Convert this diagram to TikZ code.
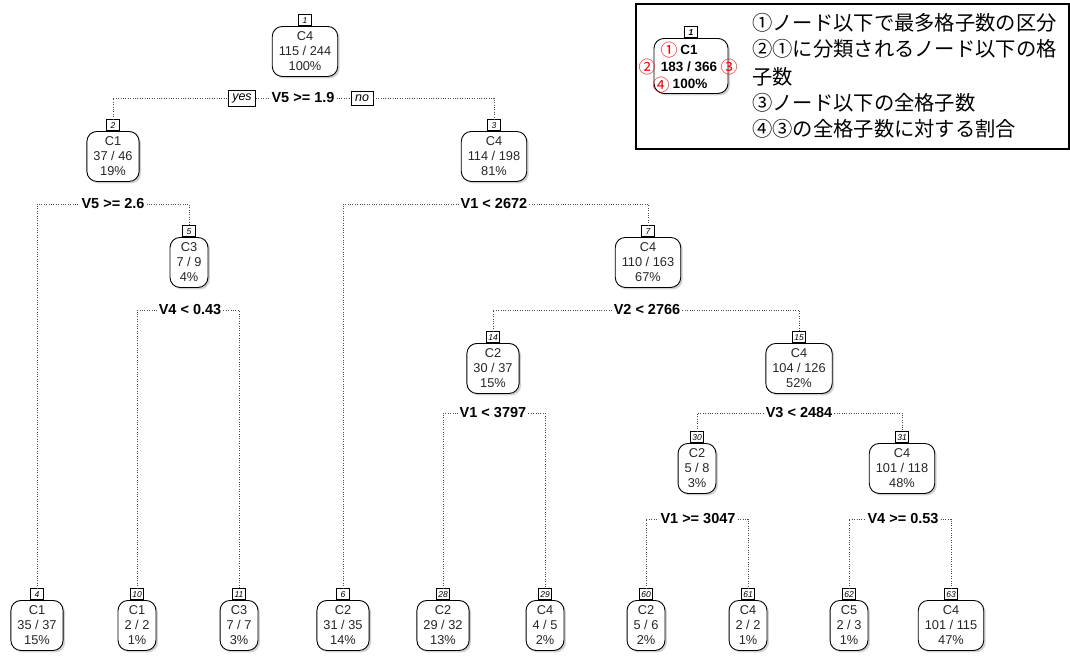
\documentclass[tikz,border=0pt]{standalone}
\usepackage{fontspec}
\setmainfont{Liberation Sans}
\newfontfamily\cjk{Noto Sans CJK JP}
\usetikzlibrary{shadows}
\tikzset{
  tbox/.style={draw=black, line width=0.9pt, rounded corners=10pt, fill=white,
    inner xsep=6.5pt, inner ysep=3pt, minimum height=50pt, align=center,
    font=\fontsize{12.8}{15}\selectfont, text=black!85, anchor=north,
    drop shadow={shadow xshift=2pt, shadow yshift=-2pt, fill=black!35}},
  numbox/.style={draw=black, line width=0.7pt, fill=white, inner sep=1pt,
    minimum width=13pt, minimum height=11pt, anchor=south,
    font=\fontsize{8.5}{8.5}\selectfont\itshape},
  splitlab/.style={fill=white, inner xsep=2pt, inner ysep=1pt,
    font=\fontsize{14.5}{15}\selectfont\bfseries},
  ynbox/.style={draw=black, line width=0.7pt, fill=white, inner xsep=4pt,
    minimum height=14pt, font=\fontsize{12.5}{13}\selectfont\itshape},
  conn/.style={black!70, line width=0.8pt, dash pattern=on 0.8pt off 1.6pt},
  redmark/.style={text=red, inner sep=0pt, font=\cjk\fontsize{17}{17}\selectfont},
  legtxt/.style={anchor=west, inner sep=0pt, font=\cjk\fontsize{20.3}{20}\selectfont},
  legnode/.style={inner sep=0pt, font=\fontsize{13.5}{14}\selectfont\bfseries}
}
\newcommand\treenode[7]{%
  \node[tbox] (#1) at (#2,#3) {#5\\#6\\#7};
  \node[numbox] (#1num) at (#1.north) {#4};}
\begin{document}
\begin{tikzpicture}[x=1pt,y=-1pt]
\useasboundingbox[fill=white] (0,0) rectangle (1070,659);
% tree nodes
\treenode{n1}{305}{26}{1}{C4}{115 / 244}{100\%}
\treenode{n2}{113}{131}{2}{C1}{37 / 46}{19\%}
\treenode{n3}{494}{131}{3}{C4}{114 / 198}{81\%}
\treenode{n5}{189}{237}{5}{C3}{7 / 9}{4\%}
\treenode{n7}{648}{237}{7}{C4}{110 / 163}{67\%}
\treenode{n14}{493}{343}{14}{C2}{30 / 37}{15\%}
\treenode{n15}{799}{343}{15}{C4}{104 / 126}{52\%}
\treenode{n30}{697}{443}{30}{C2}{5 / 8}{3\%}
\treenode{n31}{902}{443}{31}{C4}{101 / 118}{48\%}
\treenode{n4}{37}{600}{4}{C1}{35 / 37}{15\%}
\treenode{n10}{137}{600}{10}{C1}{2 / 2}{1\%}
\treenode{n11}{239}{600}{11}{C3}{7 / 7}{3\%}
\treenode{n6}{343}{600}{6}{C2}{31 / 35}{14\%}
\treenode{n28}{443}{600}{28}{C2}{29 / 32}{13\%}
\treenode{n29}{545}{600}{29}{C4}{4 / 5}{2\%}
\treenode{n60}{646}{600}{60}{C2}{5 / 6}{2\%}
\treenode{n61}{748}{600}{61}{C4}{2 / 2}{1\%}
\treenode{n62}{849}{600}{62}{C5}{2 / 3}{1\%}
\treenode{n63}{951}{600}{63}{C4}{101 / 115}{47\%}
% split labels
\node[splitlab] (s1) at (303,98) {V5 >= 1.9};
\node[ynbox] (yes) at (242,98) {yes};
\node[ynbox] (no) at (362,98) {no};
\node[splitlab] (s2) at (113,204) {V5 >= 2.6};
\node[splitlab] (s5) at (190,310) {V4 < 0.43};
\node[splitlab] (s3) at (494,204) {V1 < 2672};
\node[splitlab] (s7) at (647,310) {V2 < 2766};
\node[splitlab] (s14) at (493,413) {V1 < 3797};
\node[splitlab] (s15) at (799,413) {V3 < 2484};
\node[splitlab] (s30) at (698,519) {V1 >= 3047};
\node[splitlab] (s31) at (903,519) {V4 >= 0.53};
% connectors
\draw[conn] (n2num.north) |- (yes.west);
\draw[conn] (yes.east) -- (s1.west);
\draw[conn] (s1.east) -- (no.west);
\draw[conn] (no.east) -| (n3num.north);
\draw[conn] (n4num.north) |- (s2.west);
\draw[conn] (s2.east) -| (n5num.north);
\draw[conn] (n10num.north) |- (s5.west);
\draw[conn] (s5.east) -| (n11num.north);
\draw[conn] (n6num.north) |- (s3.west);
\draw[conn] (s3.east) -| (n7num.north);
\draw[conn] (n14num.north) |- (s7.west);
\draw[conn] (s7.east) -| (n15num.north);
\draw[conn] (n28num.north) |- (s14.west);
\draw[conn] (s14.east) -| (n29num.north);
\draw[conn] (n30num.north) |- (s15.west);
\draw[conn] (s15.east) -| (n31num.north);
\draw[conn] (n60num.north) |- (s30.west);
\draw[conn] (s30.east) -| (n61num.north);
\draw[conn] (n62num.north) |- (s31.west);
\draw[conn] (s31.east) -| (n63num.north);
% legend
\node[draw=black, line width=1.6pt, minimum width=433pt, minimum height=145pt,
  inner sep=0pt, anchor=north west] (legend) at (635,3) {};
\node[tbox, minimum width=74pt, minimum height=55pt] (lg) at (691,38) {};
\node[numbox] (lgnum) at (lg.north) {\bfseries 1};
\node[legnode] (lgc) at (689,50) {C1};
\node[legnode] (lgn) at (689,67) {183 / 366};
\node[legnode] (lgp) at (690,84) {100\%};
\node[redmark] (m1) at (669,50) {①};
\node[redmark] (m2) at (647,67) {②};
\node[redmark] (m3) at (729,67) {③};
\node[redmark] (m4) at (661,85) {④};
\node[legtxt] (t1) at (752,23) {①ノード以下で最多格子数の区分};
\node[legtxt] (t2) at (752,49) {②①に分類されるノード以下の格};
\node[legtxt] (t3) at (752,77) {子数};
\node[legtxt] (t4) at (752,103) {③ノード以下の全格子数};
\node[legtxt] (t5) at (752,129) {④③の全格子数に対する割合};
\end{tikzpicture}
\end{document}
